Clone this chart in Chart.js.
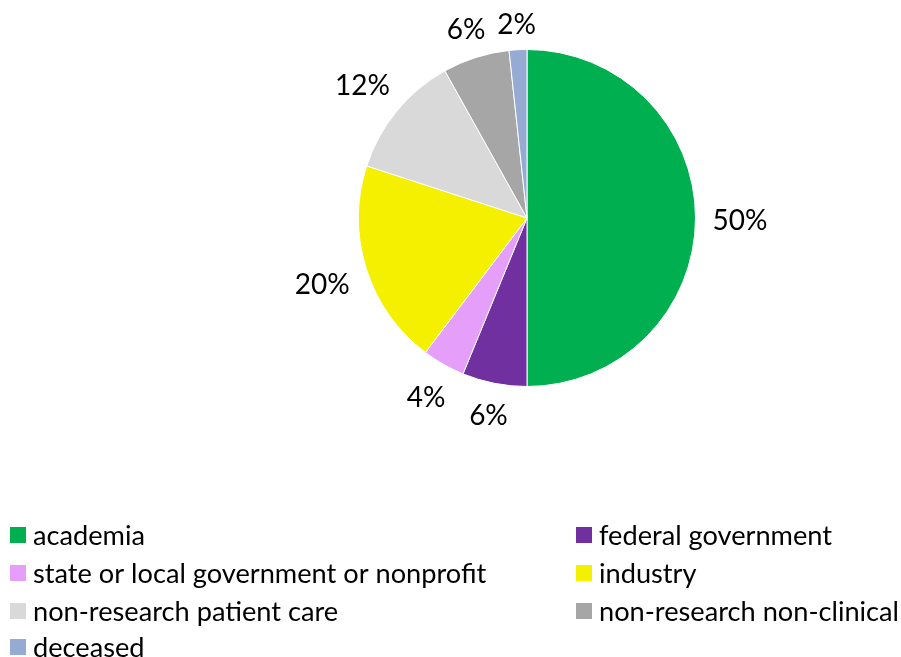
<!DOCTYPE html>
<html><head><meta charset="utf-8">
<script src="https://cdn.jsdelivr.net/npm/chart.js@4.4.0/dist/chart.umd.min.js"></script>
<style>html,body{margin:0;padding:0;background:#fff}#wrap{width:901px;height:657px;position:relative}</style>
</head><body><div id="wrap"><canvas id="c" width="901" height="657"></canvas></div>
<script>
const categories = ['academia','federal government','state or local government or nonprofit','industry','non-research patient care','non-research non-clinical','deceased'];
const values = [50.0, 6.2, 4.1, 19.7, 11.9, 6.4, 1.7];
const pctLabels = ['50%','6%','4%','20%','12%','6%','2%'];
const colors = ['#00B050','#7030A0','#E59EFA','#F5F000','#D9D9D9','#A6A6A6','#95ABD3'];

const FONT = 'Lato, "Open Sans", sans-serif';
const LABEL_SIZE = 28;
const LEGEND_SIZE = 27.2;
const GAP = 17;

const labelPlugin = {
  id: 'pctLabels',
  afterDatasetsDraw(chart) {
    const ctx = chart.ctx;
    const meta = chart.getDatasetMeta(0);
    ctx.save();
    ctx.font = LABEL_SIZE + 'px ' + FONT;
    ctx.fillStyle = '#000';
    ctx.textAlign = 'center';
    ctx.textBaseline = 'middle';
    meta.data.forEach((arc, i) => {
      const p = arc.getProps(['x','y','startAngle','endAngle','outerRadius'], true);
      const mid = (p.startAngle + p.endAngle) / 2;
      const ux = Math.cos(mid), uy = Math.sin(mid);
      const w = ctx.measureText(pctLabels[i]).width, h = 20;
      const d = p.outerRadius + GAP + Math.abs(ux) * w / 2 + Math.abs(uy) * h / 2;
      ctx.fillText(pctLabels[i], p.x + ux * d, p.y + uy * d + 3);
    });
    ctx.restore();
  }
};

const legendPlugin = {
  id: 'twoColLegend',
  afterDraw(chart) {
    const ctx = chart.ctx;
    const colX = [10, 576];
    const rowY = [535, 573, 611, 647];
    const sq = 16;
    ctx.save();
    ctx.font = LEGEND_SIZE + 'px ' + FONT;
    ctx.textBaseline = 'middle';
    ctx.textAlign = 'left';
    chart.data.labels.forEach((lab, i) => {
      const x = colX[i % 2], y = rowY[Math.floor(i / 2)];
      ctx.fillStyle = chart.data.datasets[0].backgroundColor[i];
      ctx.fillRect(x, y - sq / 2, sq, sq);
      ctx.fillStyle = '#000';
      ctx.fillText(lab, x + 23, y + 1);
    });
    ctx.restore();
  }
};

new Chart(document.getElementById('c'), {
  type: 'pie',
  data: {
    labels: categories,
    datasets: [{ data: values, backgroundColor: colors, borderColor: '#fff', borderWidth: 1 }]
  },
  options: {
    responsive: false,
    animation: false,
    layout: { padding: { top: 49, bottom: 270, left: 358, right: 205 } },
    plugins: { legend: { display: false }, tooltip: { enabled: false } }
  },
  plugins: [labelPlugin, legendPlugin]
});
</script></body></html>
